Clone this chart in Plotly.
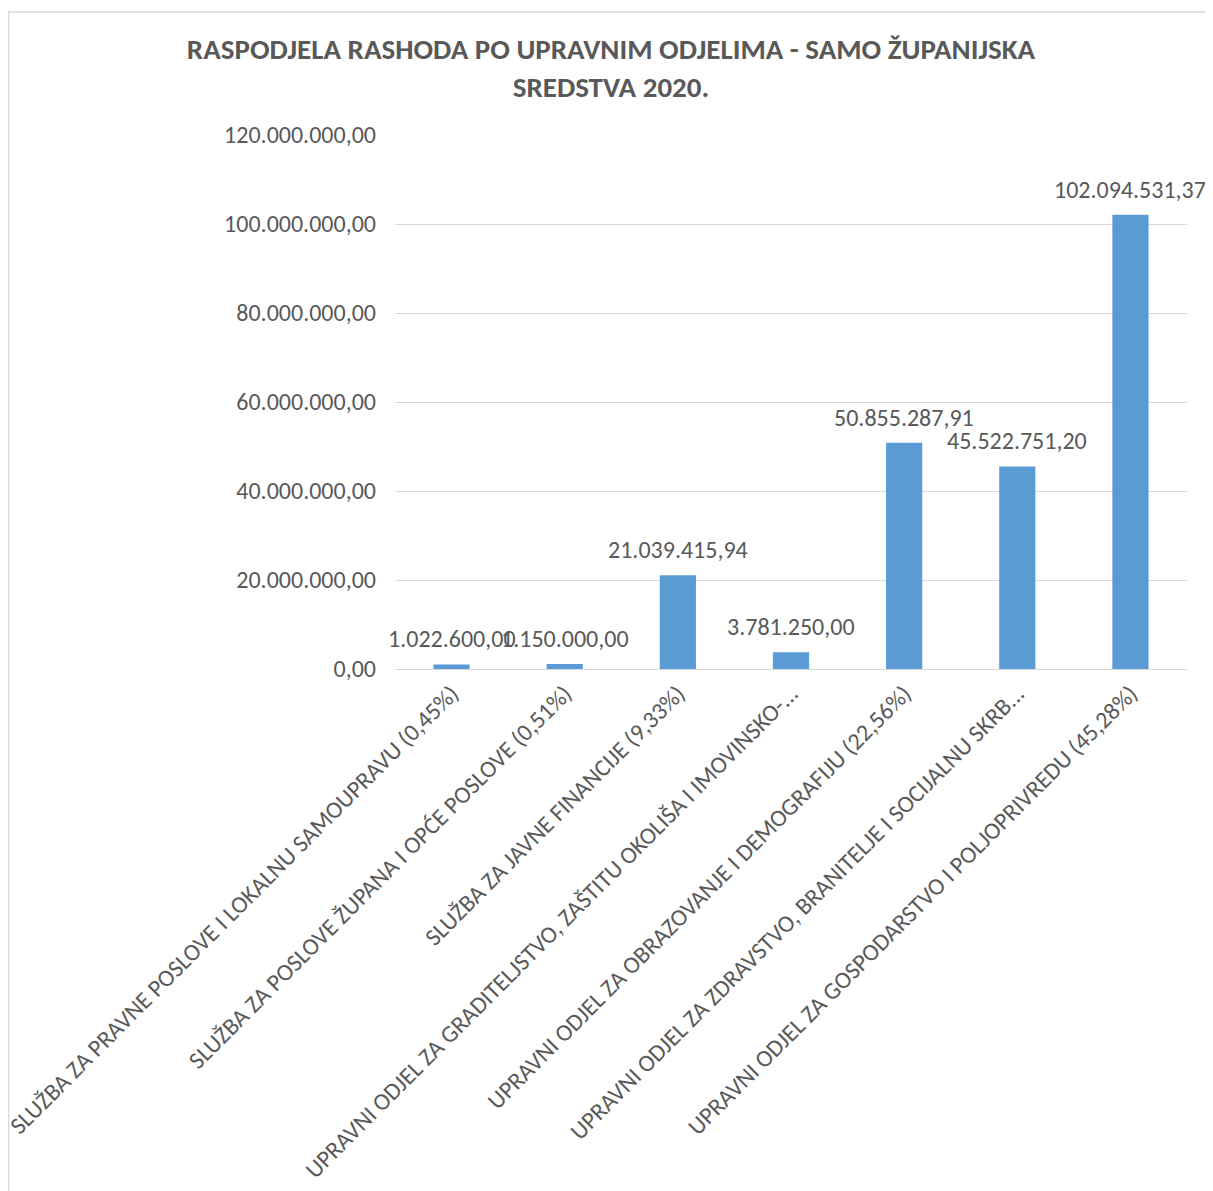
import plotly.graph_objects as go

categories = [
    "SLUŽBA ZA PRAVNE POSLOVE I LOKALNU SAMOUPRAVU (0,45%)",
    "SLUŽBA ZA POSLOVE ŽUPANA I OPĆE POSLOVE (0,51%)",
    "SLUŽBA ZA JAVNE FINANCIJE (9,33%)",
    "UPRAVNI ODJEL ZA GRADITELJSTVO, ZAŠTITU OKOLIŠA I IMOVINSKO-...",
    "UPRAVNI ODJEL ZA OBRAZOVANJE I DEMOGRAFIJU (22,56%)",
    "UPRAVNI ODJEL ZA ZDRAVSTVO, BRANITELJE I SOCIJALNU SKRB...",
    "UPRAVNI ODJEL ZA GOSPODARSTVO I POLJOPRIVREDU (45,28%)",
]
values = [1022600.00, 1150000.00, 21039415.94, 3781250.00, 50855287.91, 45522751.20, 102094531.37]
tick_values = [0, 20000000, 40000000, 60000000, 80000000, 100000000, 120000000]

FONT = "Carlito, Calibri, 'Open Sans', sans-serif"
GREY = "#595959"


def fmt(v):
    s = f"{v:,.2f}"
    return s.replace(",", "X").replace(".", ",").replace("X", ".")


fig = go.Figure(go.Bar(
    x=categories, y=values,
    marker=dict(color="#5B9BD5", line=dict(width=0)),
    cliponaxis=False,
))

# page has an 8px body margin; figure spans 8..1213 x 8..1191 of the window
W, H = 1205, 1183
l, r, t, b = 387, 26, 127, 522
pw, ph = W - l - r, H - t - b


def px(x):
    return (x - 8 - l) / pw


def py(y):
    return (H - b - (y - 8)) / ph


annotations = [
    dict(x=c, y=v, xref="x", yref="y", text=fmt(v), showarrow=False,
         yanchor="bottom", yshift=9,
         font=dict(family=FONT, size=24, color=GREY))
    for c, v in zip(categories, values)
]

fig.update_layout(
    width=W, height=H,
    margin=dict(l=l, r=r, t=t, b=b),
    paper_bgcolor="white", plot_bgcolor="white",
    separators=",.",
    showlegend=False,
    bargap=0.68,
    font=dict(family=FONT, color=GREY),
    title=dict(
        text="<b>RASPODJELA RASHODA PO UPRAVNIM ODJELIMA - SAMO ŽUPANIJSKA<br>SREDSTVA 2020.</b>",
        x=(611 - 8) / W, xanchor="center", xref="container",
        y=1 - (59 - 8) / H, yanchor="middle", yref="container",
        font=dict(family=FONT, size=29, color=GREY),
    ),
    xaxis=dict(
        range=[-0.5, len(categories) - 0.5], autorange=False,
        tickangle=-45, tickfont=dict(family=FONT, size=24, color=GREY),
        showline=True, linecolor="#D9D9D9", linewidth=1, ticks="",
        automargin=False,
    ),
    yaxis=dict(
        range=[0, 120000000], autorange=False, tickvals=tick_values, tickformat=",.2f",
        tickfont=dict(family=FONT, size=24, color=GREY),
        showgrid=True, gridcolor="#D9D9D9", gridwidth=1,
        zeroline=False, showline=False, ticks="", ticklabelstandoff=18,
        automargin=False,
    ),
    annotations=annotations,
    shapes=[
        dict(type="rect", xref="paper", yref="paper",
             x0=px(8.5), x1=px(1220), y0=py(1200), y1=py(12),
             line=dict(color="#D9D9D9", width=1.5), fillcolor="rgba(0,0,0,0)", layer="below"),
    ],
)

fig.write_html("out.html")
